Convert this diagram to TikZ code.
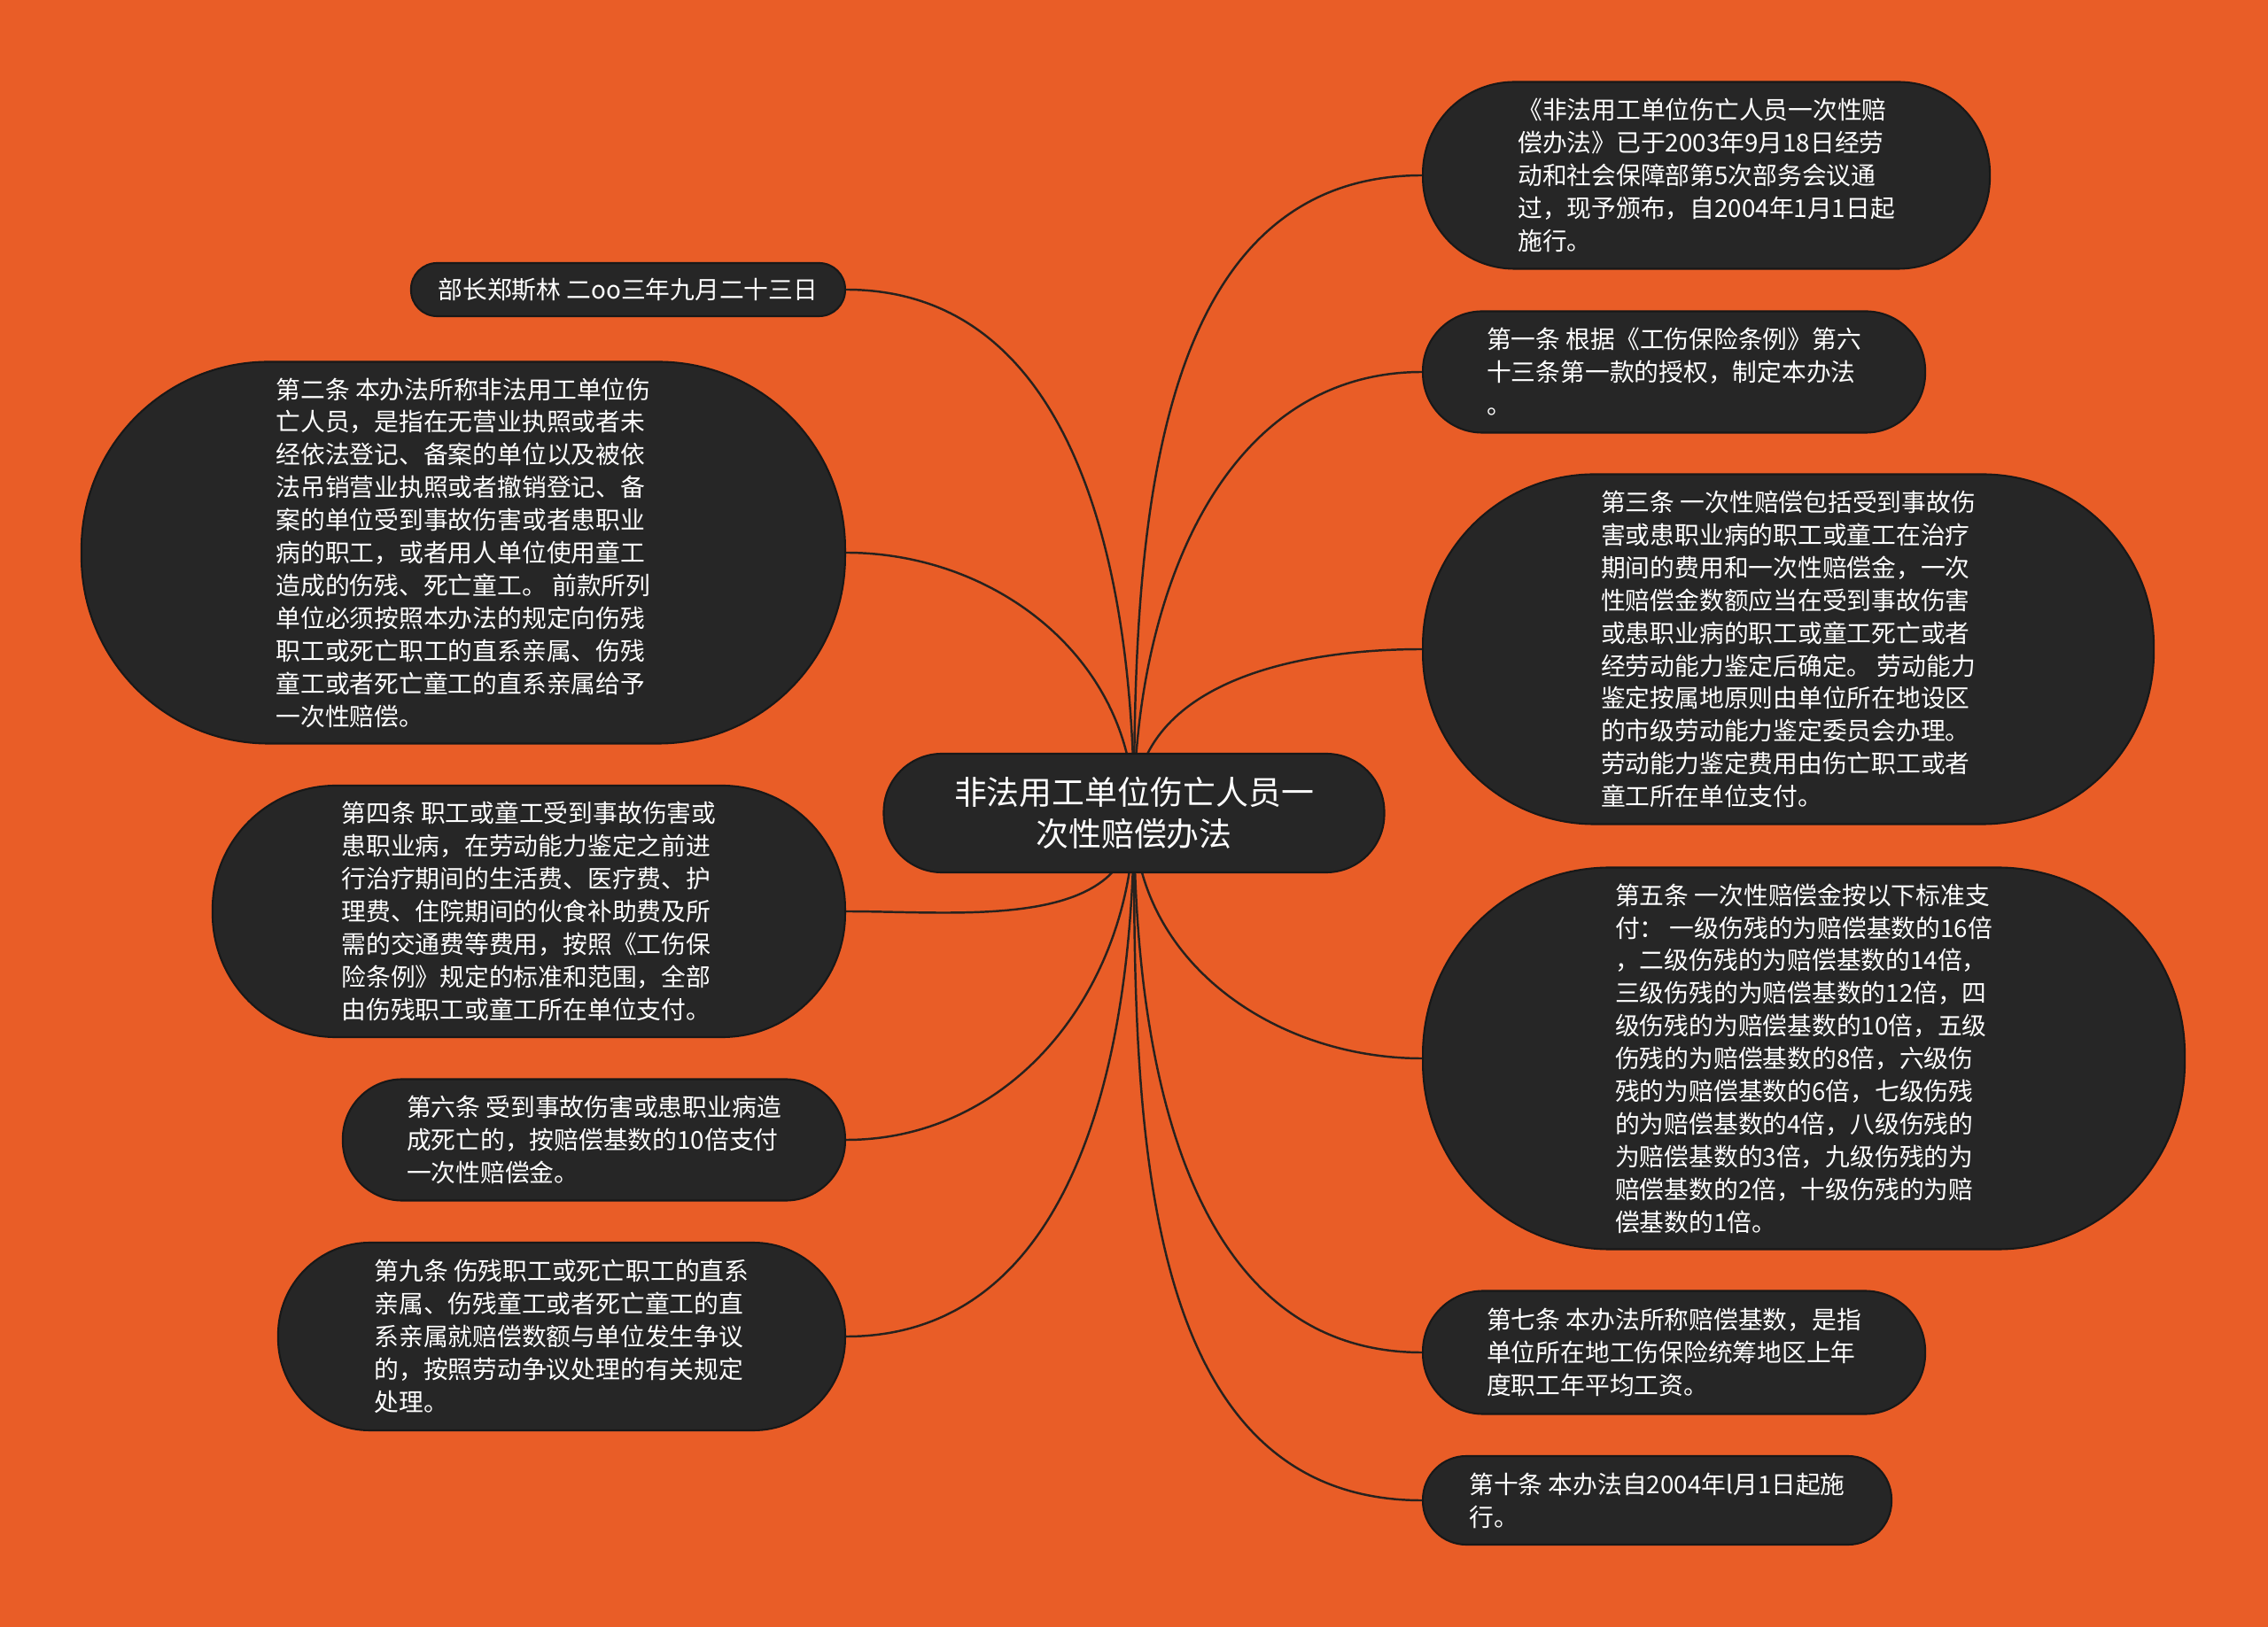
\documentclass[tikz,border=0pt]{standalone}
\usepackage{fontspec}
\setmainfont{Noto Sans CJK SC}
\definecolor{sheet}{RGB}{233,93,39}
\definecolor{pillfill}{RGB}{38,38,38}
\definecolor{pillrim}{RGB}{24,24,24}
\definecolor{wirecol}{RGB}{40,34,30}
\pgfdeclarelayer{bg}
\pgfsetlayers{bg,main}
\tikzset{
  pill/.style 2 args={draw=pillrim, fill=pillfill, text=white, line width=0.6pt,
    align=left, inner sep=0pt, minimum width=#1, minimum height=#2,
    rounded corners=0.49*#2, font=\fontsize{7.9}{10.5}\selectfont},
  wire/.style={draw=wirecol, line width=0.7pt},
}

\begin{document}
\begin{tikzpicture}
            % centre
            \node[pill={5.65cm}{1.34cm}, align=center, font=\fontsize{10.5}{13.4}\selectfont] (title) at (12.80,-9.18)
                {非法用工单位伤亡人员一\\次性赔偿办法};
            % right column
            \node[pill={6.40cm}{2.11cm}, anchor=west] (intro) at (16.05,-1.98)
                {《非法用工单位伤亡人员一次性赔\\偿办法》已于2003年9月18日经劳\\动和社会保障部第5次部务会议通\\过，现予颁布，自2004年1月1日起\\施行。};
            \node[pill={5.67cm}{1.37cm}, anchor=west] (art1) at (16.05,-4.20)
                {第一条 根据《工伤保险条例》第六\\十三条第一款的授权，制定本办法\\。};
            \node[pill={8.25cm}{3.95cm}, anchor=west] (art3) at (16.05,-7.33)
                {第三条 一次性赔偿包括受到事故伤\\害或患职业病的职工或童工在治疗\\期间的费用和一次性赔偿金，一次\\性赔偿金数额应当在受到事故伤害\\或患职业病的职工或童工死亡或者\\经劳动能力鉴定后确定。 劳动能力\\鉴定按属地原则由单位所在地设区\\的市级劳动能力鉴定委员会办理。\\劳动能力鉴定费用由伤亡职工或者\\童工所在单位支付。};
            \node[pill={8.60cm}{4.31cm}, anchor=west] (art5) at (16.05,-11.95)
                {第五条 一次性赔偿金按以下标准支\\付： 一级伤残的为赔偿基数的16倍\\，二级伤残的为赔偿基数的14倍，\\三级伤残的为赔偿基数的12倍，四\\级伤残的为赔偿基数的10倍，五级\\伤残的为赔偿基数的8倍，六级伤\\残的为赔偿基数的6倍，七级伤残\\的为赔偿基数的4倍，八级伤残的\\为赔偿基数的3倍，九级伤残的为\\赔偿基数的2倍，十级伤残的为赔\\偿基数的1倍。};
            \node[pill={5.67cm}{1.39cm}, anchor=west] (art7) at (16.05,-15.27)
                {第七条 本办法所称赔偿基数，是指\\单位所在地工伤保险统筹地区上年\\度职工年平均工资。};
            \node[pill={5.29cm}{1.00cm}, anchor=west] (art10) at (16.05,-16.94)
                {第十条 本办法自2004年l月1日起施\\行。};
            % left column
            \node[pill={4.90cm}{0.60cm}, anchor=east] (sign) at (9.55,-3.27)
                {部长郑斯林 二oo三年九月二十三日};
            \node[pill={8.62cm}{4.31cm}, anchor=east] (art2) at (9.55,-6.24)
                {第二条 本办法所称非法用工单位伤\\亡人员，是指在无营业执照或者未\\经依法登记、备案的单位以及被依\\法吊销营业执照或者撤销登记、备\\案的单位受到事故伤害或者患职业\\病的职工，或者用人单位使用童工\\造成的伤残、死亡童工。 前款所列\\单位必须按照本办法的规定向伤残\\职工或死亡职工的直系亲属、伤残\\童工或者死亡童工的直系亲属给予\\一次性赔偿。};
            \node[pill={7.14cm}{2.84cm}, anchor=east] (art4) at (9.55,-10.29)
                {第四条 职工或童工受到事故伤害或\\患职业病，在劳动能力鉴定之前进\\行治疗期间的生活费、医疗费、护\\理费、住院期间的伙食补助费及所\\需的交通费等费用，按照《工伤保\\险条例》规定的标准和范围，全部\\由伤残职工或童工所在单位支付。};
            \node[pill={5.67cm}{1.37cm}, anchor=east] (art6) at (9.55,-12.87)
                {第六条 受到事故伤害或患职业病造\\成死亡的，按赔偿基数的10倍支付\\一次性赔偿金。};
            \node[pill={6.40cm}{2.12cm}, anchor=east] (art9) at (9.55,-15.09)
                {第九条 伤残职工或死亡职工的直系\\亲属、伤残童工或者死亡童工的直\\系亲属就赔偿数额与单位发生争议\\的，按照劳动争议处理的有关规定\\处理。};
            % sheet and branches behind the pills
            \begin{pgfonlayer}{bg}
                \fill[sheet] (0,0) rectangle (25.6,-18.37);
                \foreach \leaf in {intro,art1,art3}
                    \draw[wire] (title.center) to[out=90,in=180] (\leaf.west);
                \foreach \leaf in {art5,art7,art10}
                    \draw[wire] (title.center) to[out=-90,in=180] (\leaf.west);
                \foreach \leaf in {sign,art2}
                    \draw[wire] (title.center) to[out=90,in=0] (\leaf.east);
                \foreach \leaf in {art4,art6,art9}
                    \draw[wire] (title.center) to[out=-90,in=0] (\leaf.east);
            \end{pgfonlayer}
        \end{tikzpicture}
\end{document}
